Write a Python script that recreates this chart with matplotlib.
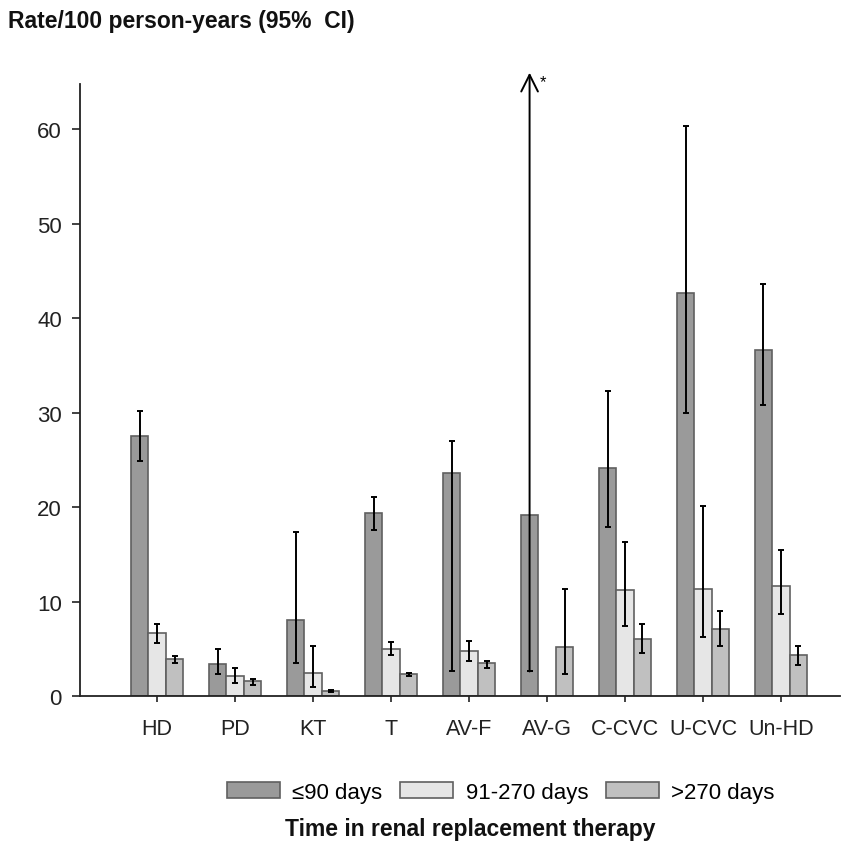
import numpy as np
import matplotlib
matplotlib.use("Agg")
import matplotlib.pyplot as plt

plt.rcParams['font.family'] = ['Liberation Sans', 'DejaVu Sans']

categories = ["HD", "PD", "KT", "T", "AV-F", "AV-G", "C-CVC", "U-CVC", "Un-HD"]
series_names = ["\u226490 days", "91-270 days", ">270 days"]

rate_le90 = [27.5, 3.4, 8.0, 19.4, 23.6, 19.2, 24.1, 42.7, 36.6]
lo_le90 = [24.9, 2.3, 3.5, 17.6, 2.6, 2.6, 17.9, 30.0, 30.8]
hi_le90 = [30.2, 5.0, 17.4, 21.1, 27.0, np.nan, 32.3, 60.4, 43.6]

rate_91_270 = [6.7, 2.15, 2.4, 5.0, 4.8, np.nan, 11.2, 11.35, 11.7]
lo_91_270 = [5.6, 1.4, 1.0, 4.3, 3.7, np.nan, 7.4, 6.2, 8.7]
hi_91_270 = [7.6, 3.0, 5.3, 5.7, 5.85, np.nan, 16.3, 20.1, 15.45]

rate_gt270 = [3.9, 1.6, 0.5, 2.3, 3.55, 5.15, 6.0, 7.1, 4.3]
lo_gt270 = [3.5, 1.2, 0.4, 2.15, 3.0, 2.3, 4.6, 5.3, 3.3]
hi_gt270 = [4.2, 1.8, 0.6, 2.45, 3.75, 11.35, 7.6, 9.05, 5.3]

arrow_top = 66.0  # open-ended upper CI for AV-G (<=90 days)

colors = ["#9a9a9a", "#e6e6e6", "#c0c0c0"]
edge = "#606060"

fig = plt.figure(figsize=(8.53, 8.45), dpi=100)
ax = fig.add_axes([0.0938, 0.1751, 0.8912, 0.7243])

x = np.arange(len(categories))
w = 0.224
offsets = [-w, 0.0, w]
series = [(rate_le90, lo_le90, hi_le90),
          (rate_91_270, lo_91_270, hi_91_270),
          (rate_gt270, lo_gt270, hi_gt270)]

handles = []
for k, (vals, lo, hi) in enumerate(series):
    vals = np.array(vals, dtype=float)
    lo = np.array(lo, dtype=float)
    hi = np.array(hi, dtype=float)
    xs = x + offsets[k]
    b = ax.bar(xs, np.nan_to_num(vals), width=w, color=colors[k],
               edgecolor=edge, linewidth=1.2, label=series_names[k], zorder=2)
    for i, bar in enumerate(b):
        if np.isnan(vals[i]):
            bar.set_visible(False)
    handles.append(b)
    ok = ~np.isnan(vals) & ~np.isnan(hi)
    ax.errorbar(xs[ok], vals[ok], yerr=[vals[ok] - lo[ok], hi[ok] - vals[ok]],
                fmt='none', ecolor='black', elinewidth=1.4, capsize=2.5,
                capthick=1.4, zorder=3)
    # open-ended upper interval
    op = ~np.isnan(vals) & np.isnan(hi) & ~np.isnan(lo)
    for i in np.where(op)[0]:
        ax.errorbar([xs[i]], [lo[i]], yerr=[[0], [0]], fmt='none',
                    ecolor='black', elinewidth=1.4, capsize=2.5, capthick=1.4,
                    zorder=3)
        ax.annotate('', xy=(xs[i], arrow_top), xytext=(xs[i], lo[i]),
                    arrowprops=dict(arrowstyle='->', lw=1.4, color='black',
                                    mutation_scale=30, shrinkA=0, shrinkB=0),
                    annotation_clip=False, zorder=3)
        ax.text(xs[i] + 0.17, arrow_top - 0.9, '*', fontsize=12,
                ha='center', va='center', clip_on=False)

ax.set_xlim(-0.99, 8.76)
ax.set_ylim(0, 64.8)
ax.set_yticks([0, 10, 20, 30, 40, 50, 60])
ax.set_xticks(x)
ax.set_xticklabels(categories)
for s in ['top', 'right']:
    ax.spines[s].set_visible(False)
for s in ['left', 'bottom']:
    ax.spines[s].set_linewidth(1.3)
    ax.spines[s].set_color('#222222')
ax.tick_params(axis='y', length=6, width=1.2, pad=7, labelsize=16,
               colors='#222222')
ax.tick_params(axis='x', length=4.5, width=1.2, pad=11, labelsize=15.5,
               colors='#222222')

fig.text(0.009, 0.974, "Rate/100 person-years (95%  CI)", fontsize=16.5,
         fontweight='bold', ha='left', va='center', color='#111111')

fig.legend(handles=handles, labels=series_names, loc='center',
           bbox_to_anchor=(0.587, 0.0615), ncol=3, frameon=False,
           fontsize=16, handlelength=2.4, handleheight=0.77,
           handletextpad=0.55, columnspacing=0.8)

fig.text(0.551, 0.018, "Time in renal replacement therapy", fontsize=16.5,
         fontweight='bold', ha='center', va='center', color='#111111')

fig.savefig("out.png", dpi=100)
